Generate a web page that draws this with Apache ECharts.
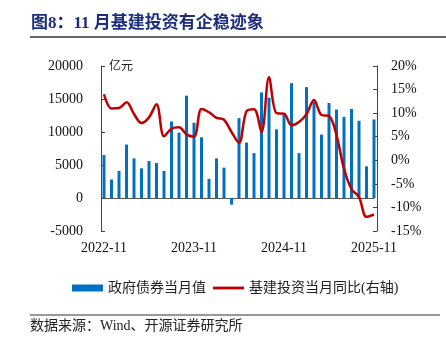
<!DOCTYPE html>
<html>
<head>
<meta charset="utf-8">
<script src="https://cdn.jsdelivr.net/npm/echarts@6/dist/echarts.min.js"></script>
<style>
html,body{margin:0;padding:0;background:#fff;}
#chart{width:446px;height:344px;}
</style>
</head>
<body>
<div id="chart"></div>
<script>
const categories = [
  "2022-11","2022-12","2023-01","2023-02","2023-03","2023-04","2023-05","2023-06","2023-07","2023-08","2023-09","2023-10",
  "2023-11","2023-12","2024-01","2024-02","2024-03","2024-04","2024-05","2024-06","2024-07","2024-08","2024-09","2024-10",
  "2024-11","2024-12","2025-01","2025-02","2025-03","2025-04","2025-05","2025-06","2025-07","2025-08","2025-09","2025-10",
  "2025-11"
];
// 政府债券当月值（亿元）
const govBond = [
  6500, 2800, 4100, 8100, 6000, 4500, 5600, 5300, 4100, 11600, 9900, 15500,
  11400, 9200, 2900, 6000, 4600, -1000, 12100, 8400, 6800, 16000, 15200, 10400,
  12900, 17400, 6800, 16800, 14600, 9600, 14400, 13400, 12300, 13500, 11700, 4800,
  11900
];
// 基建投资当月同比（%，右轴）
const infraYoY = [
  14.0, 11.0, 11.1, 12.3, 9.8, 7.9, 9.1, 11.9, 5.1, 6.7, 7.0, 5.5,
  5.0, 10.9, 10.2, 9.0, 8.6, 6.0, 3.7, 10.4, 10.8, 6.0, 17.6, 10.0,
  9.9, 7.4, 8.1, 9.8, 12.8, 9.6, 9.4, 5.3, -1.8, -6.1, -7.8, -12.0,
  -11.5
];
const leftTicks = { min: -5000, max: 20000, interval: 5000 };
const rightTicks = { min: -15, max: 20, interval: 5 };
const seriesNames = ["政府债券当月值", "基建投资当月同比(右轴)"];
const titleText = "图8：11 月基建投资有企稳迹象";
const sourceText = "数据来源：Wind、开源证券研究所";
const unitText = "亿元";

const serif = "'Liberation Serif','Times New Roman','Noto Sans CJK SC',serif";
const cjk = "'Liberation Serif','Noto Sans CJK SC',sans-serif";
const chart = echarts.init(document.getElementById('chart'), null, {renderer: 'canvas'});
chart.setOption({
  animation: false,
  backgroundColor: '#fff',
  title: [
    {text: titleText, left: 31, top: 15, padding: 0,
     textStyle: {fontSize: 17, fontWeight: 'bold', color: '#1c2d7e', fontFamily: cjk}},
    {text: sourceText, left: 30, top: 319, padding: 0,
     textStyle: {fontSize: 14, fontWeight: 'normal', color: '#222', fontFamily: cjk}}
  ],
  graphic: [
    {type: 'line', shape: {x1: 30, y1: 37, x2: 446, y2: 37}, style: {stroke: '#333', lineWidth: 1.5}},
    {type: 'line', shape: {x1: 30, y1: 315, x2: 440, y2: 315}, style: {stroke: '#777', lineWidth: 1.5}},
    {type: 'text', left: 109, top: 61, style: {text: unitText, fontSize: 12, fill: '#222', fontFamily: cjk}}
  ],
  legend: {
    left: 67, top: 276, itemWidth: 31, itemHeight: 7, itemGap: 7,
    textStyle: {fontSize: 14, color: '#222', fontFamily: cjk},
    data: [
      {name: seriesNames[0], icon: 'rect'},
      {name: seriesNames[1], icon: 'path://M0,0H33V3H0Z', itemStyle: {color: '#C00000'}}
    ]
  },
  grid: {left: 104, right: 72, top: 66, bottom: 113},
  xAxis: [
    {type: 'category', data: categories, boundaryGap: false, position: 'bottom',
     axisLine: {show: false, onZero: false}, axisTick: {show: false},
     axisLabel: {interval: 11, margin: 10, fontSize: 14, color: '#111', fontFamily: serif}},
    {type: 'category', data: categories, boundaryGap: false, position: 'top',
     axisLine: {show: true, onZero: true, onZeroAxisIndex: 0, lineStyle: {color: '#555', width: 1.2}},
     axisTick: {show: true, inside: false, length: 3, interval: 11, lineStyle: {color: '#555'}},
     axisLabel: {show: false}, splitLine: {show: false}}
  ],
  yAxis: [
    {type: 'value', min: leftTicks.min, max: leftTicks.max, interval: leftTicks.interval,
     position: 'left', offset: 3,
     axisLine: {show: true, onZero: false, lineStyle: {color: '#444'}},
     axisTick: {show: true, inside: true, length: 4, lineStyle: {color: '#444'}},
     axisLabel: {margin: 18, fontSize: 14, color: '#111', fontFamily: serif,
                 formatter: function (v) { return String(v); }},
     splitLine: {show: false}},
    {type: 'value', min: rightTicks.min, max: rightTicks.max, interval: rightTicks.interval,
     position: 'right', offset: 3,
     axisLine: {show: true, onZero: false, lineStyle: {color: '#444'}},
     axisTick: {show: true, inside: true, length: 4, lineStyle: {color: '#444'}},
     axisLabel: {margin: 14, fontSize: 14, color: '#111', fontFamily: serif, formatter: '{value}%'},
     splitLine: {show: false}}
  ],
  series: [
    {name: seriesNames[0], type: 'bar', xAxisIndex: 0, yAxisIndex: 0, data: govBond,
     barWidth: 3, clip: false, itemStyle: {color: '#0070C0'}},
    {name: seriesNames[1], type: 'line', xAxisIndex: 0, yAxisIndex: 1, data: infraYoY,
     smooth: 0.35, symbol: 'none', clip: false, z: 5,
     lineStyle: {color: '#C00000', width: 2.5}, itemStyle: {color: '#C00000'}}
  ]
});
</script>
</body>
</html>
